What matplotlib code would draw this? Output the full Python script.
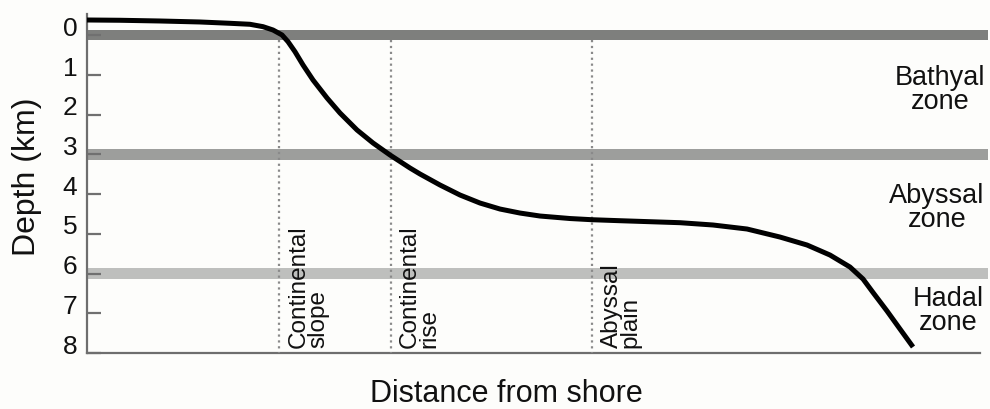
import matplotlib
matplotlib.use("Agg")
import matplotlib.pyplot as plt
import matplotlib.transforms as mtransforms

plt.rcParams['font.family'] = ['Liberation Sans', 'DejaVu Sans']

# Seafloor profile (distance from shore in % of width, depth in km)
profile_dist = [0.0, 3.70, 8.17, 12.65, 16.01, 18.25, 19.71, 20.83, 21.84, 22.51,
                23.29, 24.19, 25.31, 26.88, 28.33, 30.24, 32.03, 33.93, 36.17, 37.29,
                39.53, 41.77, 44.01, 46.25, 48.49, 50.73, 54.09, 56.55, 59.69, 63.05,
                66.41, 70.10, 73.91, 77.60, 80.63, 83.20, 85.44, 86.90, 88.02, 89.59,
                91.04, 92.50]
profile_depth = [-0.385, -0.378, -0.36, -0.335, -0.302, -0.277, -0.217, -0.133, -0.008, 0.161,
                 0.413, 0.748, 1.126, 1.579, 1.957, 2.385, 2.712, 3.014, 3.342, 3.493,
                 3.770, 4.022, 4.224, 4.375, 4.476, 4.551, 4.614, 4.644, 4.669, 4.694,
                 4.719, 4.777, 4.878, 5.080, 5.281, 5.533, 5.835, 6.137, 6.477, 6.943,
                 7.396, 7.849]

# Zone boundaries (depth km)
zone_bounds = [0, 3, 6]
zone_colors = ['#7e7f7d', '#9d9e9c', '#bebfbd']

# Zone labels
zone_labels = ['Bathyal\nzone', 'Abyssal\nzone', 'Hadal\nzone']
zone_label_depth = [1.38, 4.35, 6.95]
zone_label_x = [95.5, 95.2, 96.4]

# Seafloor features
feature_x = [21.5, 34.0, 56.55]
feature_labels = ['Continental\nslope', 'Continental\nrise', 'Abyssal\nplain']

y_ticks = [0, 1, 2, 3, 4, 5, 6, 7, 8]

W, H = 990, 409
fig = plt.figure(figsize=(W / 100, H / 100), dpi=100, facecolor='#fdfdfb')
ax = fig.add_axes([87 / W, 1 - 353 / H, (980 - 87) / W, (353 - 14) / H])
ax.set_facecolor('#fdfdfb')
ax.set_xlim(0, 100)
ax.set_ylim(8, -0.536)

for d, c in zip(zone_bounds, zone_colors):
    ax.axhspan(d - 0.13, d + 0.13, xmin=0, xmax=1.009, color=c, lw=0, clip_on=False, zorder=1)

ax.vlines(feature_x, 0.13, 8, colors='#8a8a8a', linestyles=':', lw=1.6, zorder=3)

for x, lab in zip(feature_x, feature_labels):
    ax.text(x + 0.95, 7.88, lab, rotation=90, ha='left', va='bottom', fontsize=17.5,
            linespacing=0.85, multialignment='left', color='#111111', zorder=4)

ax.plot(profile_dist, profile_depth, color='black', lw=3.6, solid_capstyle='butt',
        solid_joinstyle='round', zorder=5, clip_on=False)

for x, d, lab in zip(zone_label_x, zone_label_depth, zone_labels):
    ax.text(x, d, lab, ha='center', va='center', fontsize=19.5, linespacing=0.9,
            multialignment='center', color='#111111')

for s in ['top', 'right']:
    ax.spines[s].set_visible(False)
for s in ['left', 'bottom']:
    ax.spines[s].set_color('#6e6e6e')
    ax.spines[s].set_linewidth(1.6)

ax.set_xticks([])
ax.set_yticks(y_ticks)
ax.set_yticklabels([str(t) for t in y_ticks])
ax.tick_params(axis='y', direction='in', length=10, width=1.6, color='#707070',
               pad=7, labelsize=19, labelcolor='#111111')
offset = mtransforms.ScaledTranslation(0, 9 / 100, fig.dpi_scale_trans)
for lbl in ax.get_yticklabels():
    lbl.set_transform(lbl.get_transform() + offset)

fig.text(506 / W, 1 - 402 / H, 'Distance from shore', ha='center', va='baseline',
         fontsize=22, color='#111111')
fig.text(27 / W, 1 - 177 / H, 'Depth (km)', ha='center', va='center', rotation=90,
         fontsize=23, color='#111111')

fig.savefig('out.png', dpi=100, facecolor=fig.get_facecolor())
